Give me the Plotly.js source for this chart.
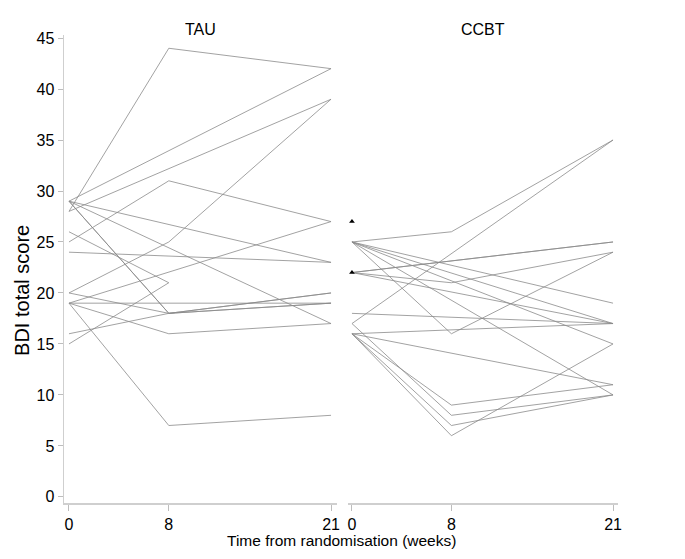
<!DOCTYPE html>
<html>
<head>
<meta charset="utf-8">
<script src="https://cdn.plot.ly/plotly-3.0.1.min.js"></script>
<style>
html,body{margin:0;padding:0;background:#fff;}
#chart{width:685px;height:559px;}
</style>
</head>
<body>
<div id="chart"></div>
<script>
// Time points (weeks from randomisation)
const weeks = [0, 8, 21];

// TAU: BDI total score per participant at weeks 0, 8, 21 (null = missing)
const tauScores = [
  [28, 44, 42],
  [29, null, 42],
  [28, null, 39],
  [20, 25, 39],
  [25, 31, 27],
  [19, null, 27],
  [29, 18, 19],
  [29, 18, 20],
  [26, 21, null],
  [15, 21, null],
  [19, 19, 19],
  [19, 16, 17],
  [19, 7, 8],
  [24, null, 23],
  [29, null, 23],
  [29, null, 17],
  [16, 18, 20],
  [20, 18, 19]
];

// CCBT: BDI total score per participant at weeks 0, 8, 21 (null = missing)
const ccbtScores = [
  [25, 26, 35],
  [17, null, 35],
  [22, 21, 24],
  [25, 16, 24],
  [25, null, 19],
  [25, null, 17],
  [25, null, 10],
  [25, null, 15],
  [22, null, 25],
  [22, null, 25],
  [22, null, 17],
  [18, null, 17],
  [16, null, 17],
  [16, 9, 11],
  [17, 8, 10],
  [16, 7, 10],
  [16, 6, 15],
  [16, null, 11]
];

// CCBT participants with a baseline score only
const ccbtBaselineOnly = [27, 22];

const panelTitles = ["TAU", "CCBT"];
const yTicks = [0, 5, 10, 15, 20, 25, 30, 35, 40, 45];
const xTicks = [0, 8, 21];

const lineStyle = {color: '#8a8a8a', width: 0.8};
const traces = [];
tauScores.forEach(s => traces.push({
  x: weeks, y: s, type: 'scatter', mode: 'lines', connectgaps: true,
  line: lineStyle, xaxis: 'x', yaxis: 'y', showlegend: false, hoverinfo: 'skip'
}));
ccbtScores.forEach(s => traces.push({
  x: weeks, y: s, type: 'scatter', mode: 'lines', connectgaps: true,
  line: lineStyle, xaxis: 'x2', yaxis: 'y', showlegend: false, hoverinfo: 'skip'
}));
traces.push({
  x: ccbtBaselineOnly.map(() => 0), y: ccbtBaselineOnly, type: 'scatter', mode: 'markers',
  marker: {symbol: 'triangle-up', size: 5, color: '#000'},
  xaxis: 'x2', yaxis: 'y', showlegend: false, hoverinfo: 'skip'
});

const fam = 'Liberation Sans, Arial, sans-serif';
const tickFont = {family: fam, size: 16, color: '#000'};
const titleFont = {family: fam, size: 16, color: '#000'};
const xCommon = {
  tickvals: xTicks, ticktext: xTicks.map(String), showgrid: false, zeroline: false,
  showline: true, linecolor: '#cfcfcf', linewidth: 1.5, ticks: 'outside', ticklen: 6,
  tickcolor: '#bdbdbd', tickfont: tickFont, anchor: 'y'
};
const layout = {
  width: 685, height: 559,
  margin: {l: 64, r: 67, t: 35, b: 56},
  paper_bgcolor: '#fff', plot_bgcolor: '#fff',
  font: tickFont,
  xaxis: Object.assign({}, xCommon, {domain: [0, 0.4928], range: [-0.4, 21.48]}),
  xaxis2: Object.assign({}, xCommon, {domain: [0.5126, 1], range: [-0.32, 21.4]}),
  yaxis: {
    range: [-0.6, 45.3], tickvals: yTicks, showgrid: false, zeroline: false,
    showline: true, linecolor: '#cfcfcf', linewidth: 1.5, ticks: 'outside', ticklen: 5,
    tickcolor: '#bdbdbd', tickfont: tickFont
  },
  annotations: [
    {text: panelTitles[0], xref: 'x domain', yref: 'paper', x: 0.5, y: 1, yshift: 6,
     showarrow: false, font: titleFont, xanchor: 'center', yanchor: 'middle'},
    {text: panelTitles[1], xref: 'x2 domain', yref: 'paper', x: 0.5, y: 1, yshift: 6,
     showarrow: false, font: titleFont, xanchor: 'center', yanchor: 'middle'},
    {text: 'BDI total score', xref: 'paper', yref: 'y', x: 0, y: 20.2, xshift: -42,
     textangle: -90, showarrow: false, font: {family: fam, size: 20, color: '#000'},
     xanchor: 'center', yanchor: 'middle'},
    {text: 'Time from randomisation (weeks)', xref: 'paper', yref: 'paper', x: 0.5, y: 0,
     yshift: -37, showarrow: false, font: {family: fam, size: 15.5, color: '#000'},
     xanchor: 'center', yanchor: 'middle'}
  ]
};
Plotly.newPlot('chart', traces, layout, {displayModeBar: false, staticPlot: true});
</script>
</body>
</html>
